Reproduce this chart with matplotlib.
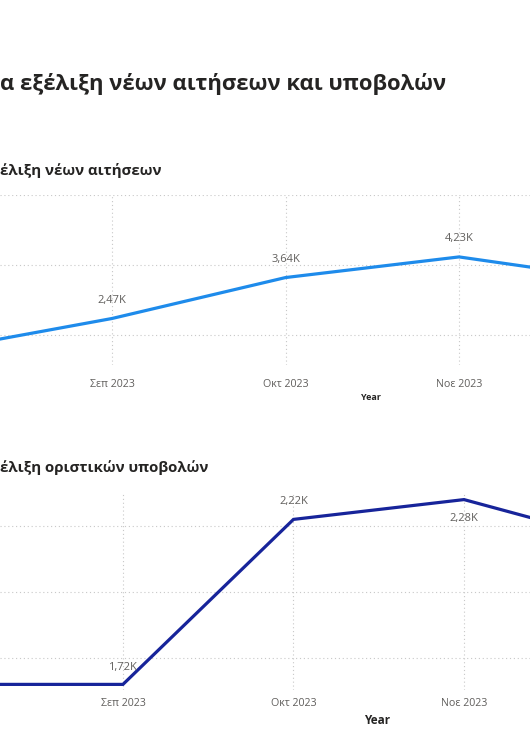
import matplotlib.pyplot as plt

plt.rcParams['font.family'] = ['Open Sans', 'DejaVu Sans']

# data (thousands)
months = ['Αυγ 2023', 'Σεπ 2023', 'Οκτ 2023', 'Νοε 2023', 'Δεκ 2023']
nees_aitiseis = [1.56, 2.47, 3.64, 4.23, 3.52]
oristikes_ypovoles = [1.72, 1.72, 2.22, 2.28, 2.14]

W, H = 530, 731
fig = plt.figure(figsize=(W / 100, H / 100), dpi=100)
fig.patch.set_facecolor('white')


def px_axes(top, bottom):
    return fig.add_axes([0, (H - bottom) / H, 1, (bottom - top) / H])


def fmt(v):
    return f'{v:.2f}'.replace('.', ',') + 'K'


def style(ax, yticks, pad):
    for s in ax.spines.values():
        s.set_visible(False)
    ax.set_yticks(yticks)
    ax.set_yticklabels([])
    ax.tick_params(axis='y', length=0)
    ax.tick_params(axis='x', length=0, pad=pad, labelsize=7.7, labelcolor='#605E5C')
    ax.grid(True, color='#C8C8C8', linestyle=(0, (1, 2.5)), linewidth=0.8)
    ax.set_axisbelow(True)
    ax.set_xticks(range(len(months)))
    ax.set_xticklabels(months)


x = list(range(len(months)))

# top chart
ax1 = px_axes(195, 365)
ax1.plot(x, nees_aitiseis, color='#1E8BEB', linewidth=2.3, solid_joinstyle='miter')
style(ax1, [2, 4, 6], 10)
ax1.set_xlim(0.354, 3.409)
ax1.set_ylim(1.14, 6.0)
for i, v in enumerate(nees_aitiseis):
    ax1.annotate(fmt(v), (i, v), xytext=(0, 9), textcoords='offset points',
                 ha='center', va='bottom', fontsize=8, color='#605E5C')

# bottom chart
ax2 = px_axes(492, 690)
ax2.plot(x, oristikes_ypovoles, color='#17249A', linewidth=2.3, solid_joinstyle='miter')
style(ax2, [1.8, 2.0, 2.2], 6)
ax2.set_xlim(0.279, 3.387)
ax2.set_ylim(1.703, 2.303)
offsets = [9, 8, 9, -10, 9]
for i, v in enumerate(oristikes_ypovoles):
    ax2.annotate(fmt(v), (i, v), xytext=(0, offsets[i]), textcoords='offset points',
                 ha='center', va='bottom' if offsets[i] > 0 else 'top',
                 fontsize=8, color='#605E5C')

# titles
fig.text(0, 1 - 84 / H, 'α εξέλιξη νέων αιτήσεων και υποβολών', fontsize=15.8,
         fontweight='bold', color='#252423', ha='left', va='center')
fig.text(0, 1 - 171 / H, 'έλιξη νέων αιτήσεων', fontsize=10.8,
         fontweight='bold', color='#252423', ha='left', va='center')
fig.text(0, 1 - 468 / H, 'έλιξη οριστικών υποβολών', fontsize=10.8,
         fontweight='bold', color='#252423', ha='left', va='center')
fig.text(371 / W, 1 - 398 / H, 'Year', fontsize=6.5, fontweight='bold',
         color='#252423', ha='center', va='center')
fig.text(377 / W, 1 - 720 / H, 'Year', fontsize=8.5, fontweight='bold',
         color='#252423', ha='center', va='center')

fig.savefig('out.png', dpi=100)
